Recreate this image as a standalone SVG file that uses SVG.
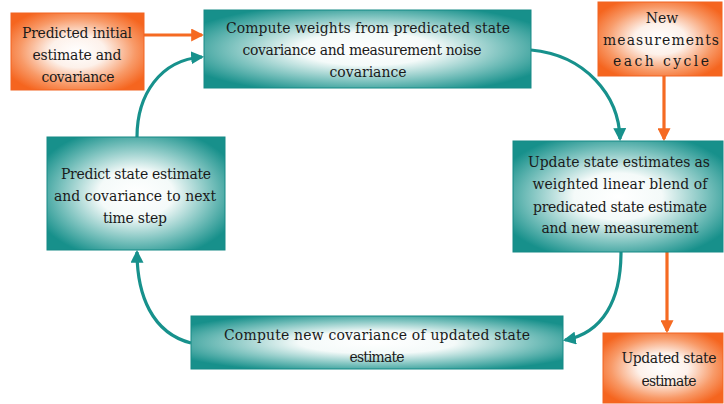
<svg xmlns="http://www.w3.org/2000/svg" width="724" height="404" viewBox="0 0 724 404">
<defs>
<radialGradient id="gT" cx="0.5" cy="0.5" r="0.6">
<stop offset="0" stop-color="#ffffff"/>
<stop offset="0.35" stop-color="#f4faf9"/>
<stop offset="0.7" stop-color="#7cc2be"/>
<stop offset="1" stop-color="#17908b"/>
</radialGradient>
<radialGradient id="gO" cx="0.5" cy="0.5" r="0.6">
<stop offset="0" stop-color="#ffffff"/>
<stop offset="0.35" stop-color="#fdf1ea"/>
<stop offset="0.72" stop-color="#f89a68"/>
<stop offset="1" stop-color="#f5651f"/>
</radialGradient>
<marker id="aT" markerUnits="userSpaceOnUse" markerWidth="13" markerHeight="13" viewBox="0 0 12 12" refX="10" refY="6" orient="auto">
<path d="M0,0 L12,6 L0,12 Z" fill="#17918c"/>
</marker>
<marker id="aO" markerUnits="userSpaceOnUse" markerWidth="13" markerHeight="13" viewBox="0 0 12 12" refX="10" refY="6" orient="auto">
<path d="M0,0 L12,6 L0,12 Z" fill="#f56a22"/>
</marker>
</defs>
<style>
.t{fill:url(#gT);stroke:#168a86;stroke-width:1}
.o{fill:url(#gO);stroke:#f26422;stroke-width:1}
text{font-family:"DejaVu Serif Condensed","DejaVu Serif",serif;font-stretch:condensed;font-size:15.5px;fill:#1a1a1a;text-anchor:middle}
.ct{fill:none;stroke:#17918c;stroke-width:3.2}
.co{fill:none;stroke:#f56a22;stroke-width:3.2}
</style>
<rect width="724" height="404" fill="#ffffff"/>
<g id="connectors">
<path class="co" d="M144,35 L202,35" marker-end="url(#aO)"/>
<path class="ct" d="M137,137 C137,95 160,60 202,57" marker-end="url(#aT)"/>
<path class="ct" d="M531,50 C585,55 619,95 620,139" marker-end="url(#aT)"/>
<path class="co" d="M664,76 L664,139" marker-end="url(#aO)"/>
<path class="ct" d="M621,252 C621,300 603,333 565,340" marker-end="url(#aT)"/>
<path class="co" d="M667,252 L667,331" marker-end="url(#aO)"/>
<path class="ct" d="M191,343 C152,333 137,295 137,252" marker-end="url(#aT)"/>
</g>
<g id="predicted-initial">
<rect class="o" x="11" y="13" width="133" height="77"/>
<text x="77" y="38" textLength="110" lengthAdjust="spacing">Predicted initial</text>
<text x="77" y="60" textLength="89" lengthAdjust="spacing">estimate  and</text>
<text x="78" y="82" textLength="73" lengthAdjust="spacing">covariance</text>
</g>
<g id="compute-weights">
<rect class="t" x="204" y="10" width="327" height="78"/>
<text x="368" y="33" textLength="284" lengthAdjust="spacing">Compute weights from predicated state</text>
<text x="362" y="55" textLength="239" lengthAdjust="spacing">covariance and measurement noise</text>
<text x="368" y="77" textLength="77" lengthAdjust="spacing">covariance</text>
</g>
<g id="new-measurements">
<rect class="o" x="598" y="2" width="124" height="74"/>
<text x="662" y="23">New</text>
<text x="661" y="45" textLength="116" lengthAdjust="spacing">measurements</text>
<text x="661" y="66" textLength="96" lengthAdjust="spacing">each cycle</text>
</g>
<g id="predict-state">
<rect class="t" x="47" y="137" width="178" height="113"/>
<text x="136" y="179" textLength="150" lengthAdjust="spacing">Predict state estimate</text>
<text x="135" y="201" textLength="162" lengthAdjust="spacing">and covariance  to next</text>
<text x="135" y="223" textLength="64" lengthAdjust="spacing">time  step</text>
</g>
<g id="update-state">
<rect class="t" x="513" y="141" width="210" height="111"/>
<text x="619" y="167" textLength="182" lengthAdjust="spacing">Update state estimates  as</text>
<text x="620" y="189" textLength="175" lengthAdjust="spacing">weighted linear blend of</text>
<text x="620" y="212" textLength="174" lengthAdjust="spacing">predicated state estimate</text>
<text x="620" y="233" textLength="157" lengthAdjust="spacing">and new measurement</text>
</g>
<g id="compute-new-covariance">
<rect class="t" x="191" y="316" width="372" height="53"/>
<text x="377" y="340" textLength="306" lengthAdjust="spacing">Compute new covariance  of updated state</text>
<text x="377" y="362" textLength="55" lengthAdjust="spacing">estimate</text>
</g>
<g id="updated-state">
<rect class="o" x="603" y="333" width="120" height="70"/>
<text x="669" y="363" textLength="95" lengthAdjust="spacing">Updated state</text>
<text x="669" y="386" textLength="55" lengthAdjust="spacing">estimate</text>
</g>
</svg>
